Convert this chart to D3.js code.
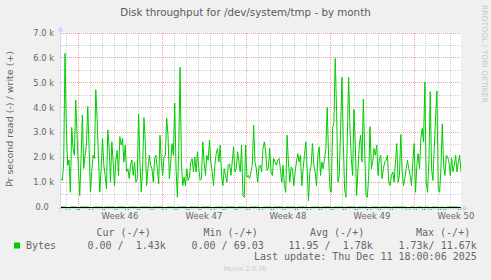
<!DOCTYPE html>
<html>
<head>
<meta charset="utf-8">
<script src="https://cdn.jsdelivr.net/npm/d3@7"></script>
<style>
  body { margin: 0; background: #f0f0f0; }
  svg { display: block; }
</style>
</head>
<body>
<script>
// time span of the graph (UTC) and the sampled series, one value every 2h40m
var timeStart = "2025-11-08T14:00:00Z";
var timeEnd = "2025-12-11T22:00:00Z";

// write (+) bytes per second
var writeBytes = [
  1140, 1070, 1810, 6180, 3160, 1680, 1890, 590, 3200, 2350,
  2080, 4300, 2890, 1550, 460, 1950, 3700, 1550, 2080, 2490,
  4050, 2350, 600, 1410, 2080, 1950, 4720, 3550, 1950, 600,
  1540, 2750, 1680, 1270, 730, 3100, 2350, 1000, 2620, 1810,
  860, 1880, 2280, 1270, 2830, 2490, 2760, 1810, 2490, 1410,
  1540, 1140, 1680, 1890, 1270, 1810, 1000, 1140, 3740, 1810,
  600, 1540, 3600, 2620, 860, 1540, 2080, 1680, 1540, 1000,
  1950, 2080, 1540, 930,
  2890, 1810, 1270, 2010, 2080, 3570, 2890, 1140, 1810, 2550,
  2080, 4180, 1540, 390, 2280, 5620, 1810, 860, 1200, 860,
  1540, 1070, 1200, 1810, 1950, 1410, 2010, 1410, 2220, 1540,
  1070, 1140, 2620, 1810, 1270, 2080, 1880, 2690, 1810, 1410,
  860, 1680, 2150, 2350, 1810, 2490, 1270, 860, 1540, 1270,
  1000, 1680, 1740, 1270, 1810, 2420, 1410, 1540, 2220, 1810,
  1410, 2490, 460, 390, 2490, 1200, 1270, 1140, 1410, 1680,
  3300, 1810, 1540,
  1000, 1610, 1680, 1410, 2350, 2620, 2220, 1470, 1540, 2350,
  1410, 1270, 1950, 1810, 1680, 1880, 1950, 1540, 1000, 1680,
  860, 590, 2890, 1810, 1000, 1610, 1540, 860, 1410, 1810,
  2150, 1810, 2080, 860, 1540, 2080, 2620, 1540, 260, 1410,
  1680, 2550, 1680, 1410, 860, 2080, 2420, 1270, 1810, 1540,
  1950, 2350, 4000, 2080, 730, 590, 3160, 3400, 5980, 3840,
  1000, 1270, 3160, 5220, 2620, 730, 390, 2760, 5220, 3160,
  1950, 1270, 3920,
  2490, 460, 1540, 2490, 2890, 1810, 4340, 2220, 460, 390,
  1270, 3230, 1540, 1810, 2350, 2080, 2490, 1270, 1950, 2080,
  1140, 1540, 1810, 1880, 2080, 1000, 860, 1270, 1410, 1000,
  1810, 2550, 1000, 1270, 2920, 1410, 860, 1140, 1540, 1880,
  1540, 1270, 860, 1810, 2550, 590, 1680, 2150, 1540, 2760,
  3160, 2620, 5020, 1000, 590, 1810, 4640, 1540, 1070, 2350,
  3570, 4670, 730, 590, 1540, 3340, 1680, 1270, 2080, 2010,
  1810, 1270, 1950, 1410, 1680, 2080, 1410, 1810, 2080, 1410
];

// read (-) bytes per second: zero except at these samples
var readIdx = [5, 6, 13, 22, 23, 32, 41, 49, 50, 58, 68, 77, 78, 86, 95, 104, 113, 114, 122, 131,
  140, 149, 150, 158, 167, 176, 185, 186, 194, 203, 212, 221, 230, 231, 238, 247, 259, 260, 265, 271,
  276, 283, 287, 298];
var readVals = [640, 310, 520, 880, 270, 450, 700, 390, 240, 560, 610, 480, 300, 720, 530, 410, 660, 280, 590, 470,
  820, 500, 260, 430, 690, 540, 600, 330, 480, 760, 520, 640, 900, 350, 580, 470, 1730, 400, 620, 510,
  680, 740, 450, 560];

var yTicks = [0, 1000, 2000, 3000, 4000, 5000, 6000, 7000];
var yTickLabels = ["0.0\u00a0\u00a0", "1.0 k", "2.0 k", "3.0 k", "4.0 k", "5.0 k", "6.0 k", "7.0 k"];
var yMinor = [500, 1500, 2500, 3500, 4500, 5500, 6500];
var weekStarts = ["2025-11-10", "2025-11-17", "2025-11-24", "2025-12-01", "2025-12-08"];
var weekLabels = ["Week 46", "Week 47", "Week 48", "Week 49", "Week 50"];

var legendHeads = ["Cur (-/+)", "Min (-/+)", "Avg (-/+)", "Max (-/+)"];
var legendVals = ["0.00 /  1.43k", "0.00 / 69.03", "11.95 /  1.78k", "1.73k/ 11.67k"];

(function () {
  //Width and height
  var w = 491;
  var h = 280;
  var pL = 61, pR = 461, pT = 33, pB = 209;

  var t0 = new Date(timeStart), t1 = new Date(timeEnd);
  var x = d3.scaleUtc().domain([t0, t1]).range([pL, pR]);
  var y = d3.scaleLinear().domain([-80, 7000]).range([pB, pT]);

  var n = writeBytes.length;
  var step = (t1 - t0) / (n - 1);
  var writeData = writeBytes.map(function (v, i) { return { t: new Date(+t0 + i * step), v: v }; });
  var readArr = writeBytes.map(function () { return 0; });
  readIdx.forEach(function (k, j) { readArr[k] = readVals[j]; });
  var readData = readArr.map(function (v, i) { return { t: new Date(+t0 + i * step), v: -v }; });

  var svg = d3.select("body").append("svg")
    .attr("width", w)
    .attr("height", h)
    .style("font-family", "'DejaVu Sans', sans-serif");

  svg.append("rect").attr("width", w).attr("height", h).attr("fill", "#f0f0f0");
  svg.append("rect")
    .attr("x", pL).attr("y", pT)
    .attr("width", pR - pL).attr("height", pB - pT)
    .attr("fill", "#ffffff");

  svg.append("clipPath").attr("id", "clip")
    .append("rect")
    .attr("x", pL).attr("y", pT)
    .attr("width", pR - pL).attr("height", pB - pT + 1);

  function px(v) { return Math.floor(v) + 0.5; }

  // minor grid
  var mondays = weekStarts.map(function (d) { return new Date(d + "T00:00:00Z"); });
  var days = d3.utcDay.range(t0, t1).filter(function (d) { return d.getUTCDay() !== 1; });
  var grid = svg.append("g").attr("stroke-dasharray", "1,1").attr("stroke-width", 1);

  grid.selectAll("line.dmin").data(days).enter().append("line")
    .attr("x1", function (d) { return px(x(d)); })
    .attr("x2", function (d) { return px(x(d)); })
    .attr("y1", pT).attr("y2", pB + 1)
    .attr("stroke", "#d2d2d2");
  grid.selectAll("line.hmin").data(yMinor).enter().append("line")
    .attr("x1", pL).attr("x2", pR)
    .attr("y1", function (d) { return px(y(d)); })
    .attr("y2", function (d) { return px(y(d)); })
    .attr("stroke", "#d2d2d2");

  // major grid
  grid.selectAll("line.dmaj").data(mondays).enter().append("line")
    .attr("x1", function (d) { return px(x(d)); })
    .attr("x2", function (d) { return px(x(d)); })
    .attr("y1", pT).attr("y2", pB + 1)
    .attr("stroke", "#eea3a3");
  grid.selectAll("line.hmaj").data(yTicks.slice(1)).enter().append("line")
    .attr("x1", pL).attr("x2", pR)
    .attr("y1", function (d) { return px(y(d)); })
    .attr("y2", function (d) { return px(y(d)); })
    .attr("stroke", "#eea3a3");

  var line = d3.line()
    .x(function (d) { return x(d.t); })
    .y(function (d) { return y(d.v); });

  var plot = svg.append("g").attr("clip-path", "url(#clip)");
  plot.append("path").datum(readData)
    .attr("d", line).attr("fill", "none")
    .attr("stroke", "#00cc00").attr("stroke-width", 1);
  plot.append("path").datum(writeData)
    .attr("d", line).attr("fill", "none")
    .attr("stroke", "#00cc00").attr("stroke-width", 1);

  // zero line
  svg.append("line")
    .attr("x1", pL).attr("x2", pR)
    .attr("y1", px(y(0))).attr("y2", px(y(0)))
    .attr("stroke", "#000000").attr("stroke-width", 1);

  // axes with arrows
  var axisCol = "#cfd6f8";
  svg.append("line").attr("x1", pL - 0.5).attr("x2", pL - 0.5)
    .attr("y1", pB + 3).attr("y2", pT - 4)
    .attr("stroke", axisCol);
  svg.append("path").attr("d", "M57.5,31.5 L63.5,31.5 L60.5,26 Z").attr("fill", axisCol);
  svg.append("line").attr("x1", pL - 3).attr("x2", pR + 2)
    .attr("y1", pB - 0.5).attr("y2", pB - 0.5)
    .attr("stroke", axisCol);
  svg.append("path").attr("d", "M463,205.5 L463,211.5 L468,208.5 Z").attr("fill", axisCol);

  // y tick labels
  svg.selectAll("text.ytick").data(yTicks).enter().append("text")
    .attr("x", 54)
    .attr("y", function (d) { return y(d) + 3; })
    .attr("text-anchor", "end")
    .attr("font-size", "8.3px")
    .attr("fill", "#666666")
    .text(function (d, i) { return yTickLabels[i]; });

  // week labels, centred in the week
  svg.selectAll("text.week").data(mondays).enter().append("text")
    .attr("x", function (d) { return x(d3.utcHour.offset(d, 84)); })
    .attr("y", 218.5)
    .attr("text-anchor", "middle")
    .attr("font-size", "8.5px")
    .attr("fill", "#666666")
    .text(function (d, i) { return weekLabels[i]; });

  // title
  svg.append("text")
    .attr("x", 245.5).attr("y", 15.5)
    .attr("text-anchor", "middle")
    .attr("font-size", "10.3px")
    .attr("fill", "#5a5a5a")
    .text("Disk throughput for /dev/system/tmp - by month");

  // vertical axis title
  svg.append("text")
    .attr("transform", "translate(12.5,119) rotate(-90)")
    .attr("text-anchor", "middle")
    .attr("font-size", "9.5px")
    .attr("fill", "#666666")
    .text("Pr second read (-) / write (+)");

  // watermark
  svg.append("text")
    .attr("transform", "translate(482,54) rotate(90)")
    .attr("text-anchor", "middle")
    .attr("font-size", "7.6px")
    .attr("fill", "#c8c8c8")
    .text("RRDTOOL / TOBI OETIKER");

  // legend
  var mono = "'DejaVu Sans Mono', monospace";
  var headX = [96.5, 203.5, 310, 416];
  var valX = [87.5, 191.5, 288.5, 398.5];

  svg.append("rect").attr("x", 14).attr("y", 242.5).attr("width", 6).attr("height", 6)
    .attr("fill", "#00cc00");
  svg.append("text").attr("x", 26).attr("y", 248.5)
    .attr("font-family", mono).attr("font-size", "10px").attr("fill", "#666666")
    .text("Bytes");

  svg.selectAll("text.head").data(legendHeads).enter().append("text")
    .attr("x", function (d, i) { return headX[i]; })
    .attr("y", 235.5)
    .attr("font-family", mono).attr("font-size", "10px").attr("fill", "#666666")
    .style("white-space", "pre")
    .text(function (d) { return d; });

  svg.selectAll("text.val").data(legendVals).enter().append("text")
    .attr("x", function (d, i) { return valX[i]; })
    .attr("y", 248.5)
    .attr("font-family", mono).attr("font-size", "10px").attr("fill", "#666666")
    .style("white-space", "pre")
    .text(function (d) { return d; });

  svg.append("text").attr("x", 254).attr("y", 260)
    .attr("font-family", mono).attr("font-size", "10px").attr("fill", "#666666")
    .style("white-space", "pre")
    .text("Last update: Thu Dec 11 18:00:06 2025");

  svg.append("text").attr("x", 245).attr("y", 270.5)
    .attr("text-anchor", "middle")
    .attr("font-size", "6.5px").attr("fill", "#cccccc")
    .text("Munin 2.0.76");
})();
</script>
</body>
</html>
